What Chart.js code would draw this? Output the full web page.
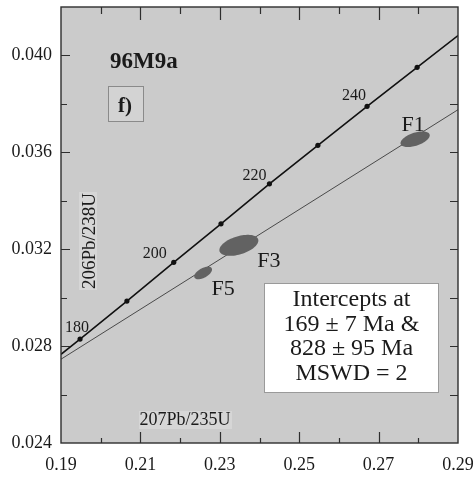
<!doctype html>
<html lang="en">
<head>
<meta charset="utf-8">
<title>96M9a concordia</title>
<style>
  * { margin: 0; padding: 0; }
  body { background: #fff; }
  canvas { display: block; }
</style>
</head>
<body>
<canvas id="myChart" width="474" height="480"></canvas>
<script src="https://cdn.jsdelivr.net/npm/chart.js"></script>
<script>
// concordia curve (ages in Ma; the null ends are where it leaves the frame)
const concordiaAges = [null, 180, 190, 200, 210, 220, 230, 240, 250, null];
const concordiaX = [0.19, 0.1948, 0.2066, 0.2184, 0.2303, 0.2425, 0.2547, 0.2671, 0.2797, 0.29];
const concordiaY = [0.02766, 0.02829, 0.02986, 0.03146, 0.03305, 0.03470, 0.03629, 0.03790, 0.03951, 0.04082];
const labelledAges = [180, 200, 220, 240];

// discordia chord
const discordiaX = [0.19, 0.29];
const discordiaY = [0.02746, 0.03776];

// zircon fractions: centre, half-extent in x and y, error correlation
const fractionNames = ['F1', 'F3', 'F5'];
const fractionX = [0.2792, 0.2348, 0.2258];
const fractionY = [0.03654, 0.03216, 0.03102];
const fractionErrX = [0.00368, 0.00491, 0.00224];
const fractionErrY = [0.000323, 0.000434, 0.00026];
const fractionRho = [0.5, 0.45, 0.55];

// axes
const xTicks = [0.19, 0.21, 0.23, 0.25, 0.27, 0.29];
const xTickLabels = ['0.19', '0.21', '0.23', '0.25', '0.27', '0.29'];
const xMinorTicks = [0.20, 0.22, 0.24, 0.26, 0.28];
const yTicks = [0.024, 0.028, 0.032, 0.036, 0.040];
const yTickLabels = ['0.024', '0.028', '0.032', '0.036', '0.040'];
const yMinorTicks = [0.026, 0.030, 0.034, 0.038];

const interceptText = ['Intercepts at', '169 \u00b1 7 Ma &', '828 \u00b1 95 Ma', 'MSWD = 2'];

const SERIF = '"Liberation Serif", "Times New Roman", serif';

// label offsets from the marks they name (pixels)
const ageLabelOffset = { 180: [-3, -7], 200: [-19, -4], 220: [-15, -4], 240: [-13, -6] };
const fractionLabelOffset = { F1: [-2, -8], F3: [30, 22], F5: [20, 22] };

const concordiaPlot = {
  id: 'concordiaPlot',
  beforeDraw(chart) {
    const { ctx, chartArea: { left, top, width, height } } = chart;
    ctx.save();
    ctx.fillStyle = '#cbcbcb';
    ctx.fillRect(left, top, width, height);
    ctx.restore();
  },
  afterDatasetsDraw(chart) {
    const { ctx, chartArea: { top, right, bottom, left }, scales: { x, y } } = chart;
    ctx.save();

    // error ellipses
    fractionNames.forEach((name, i) => {
      const cx = x.getPixelForValue(fractionX[i]);
      const cy = y.getPixelForValue(fractionY[i]);
      const sx = x.getPixelForValue(fractionX[i] + fractionErrX[i]) - cx;
      const sy = cy - y.getPixelForValue(fractionY[i] + fractionErrY[i]);
      const r = fractionRho[i];
      const q = Math.sqrt(1 - r * r);
      ctx.fillStyle = '#626262';
      ctx.beginPath();
      for (let k = 0; k <= 72; k++) {
        const t = k / 72 * Math.PI * 2;
        const px = cx + sx * Math.cos(t);
        const py = cy - sy * (r * Math.cos(t) + q * Math.sin(t));
        if (k === 0) ctx.moveTo(px, py); else ctx.lineTo(px, py);
      }
      ctx.closePath();
      ctx.fill();

      const off = fractionLabelOffset[name];
      ctx.fillStyle = '#1a1a1a';
      ctx.font = '22px ' + SERIF;
      ctx.textAlign = 'center';
      ctx.textBaseline = 'alphabetic';
      ctx.fillText(name, cx + off[0], cy + off[1]);
    });

    // age labels along the concordia
    ctx.fillStyle = '#1a1a1a';
    ctx.font = '16px ' + SERIF;
    ctx.textAlign = 'center';
    labelledAges.forEach(age => {
      const i = concordiaAges.indexOf(age);
      const px = x.getPixelForValue(concordiaX[i]);
      const py = y.getPixelForValue(concordiaY[i]);
      const off = ageLabelOffset[age];
      ctx.fillText(String(age), px + off[0], py + off[1]);
    });

    // sample name and panel tag
    ctx.textAlign = 'left';
    ctx.font = 'bold 23px ' + SERIF;
    ctx.fillText('96M9a', left + 49, top + 61);

    ctx.fillStyle = '#d3d3d3';
    ctx.fillRect(left + 47.5, top + 79.5, 35, 35);
    ctx.strokeStyle = '#8a8a8a';
    ctx.lineWidth = 1;
    ctx.strokeRect(left + 47.5, top + 79.5, 35, 35);
    ctx.fillStyle = '#1a1a1a';
    ctx.font = 'bold 21px ' + SERIF;
    ctx.textAlign = 'center';
    ctx.fillText('f)', left + 64, top + 105);

    // axis titles inside the frame
    ctx.font = '18px ' + SERIF;
    ctx.fillStyle = '#d6d6d6';
    ctx.fillRect(left + 78, bottom - 32, 93, 18);
    ctx.fillStyle = '#1a1a1a';
    ctx.fillText('207Pb/235U', left + 124, bottom - 18);

    ctx.save();
    ctx.translate(left + 28, top + 234);
    ctx.rotate(-Math.PI / 2);
    ctx.font = '19px ' + SERIF;
    ctx.fillStyle = '#d6d6d6';
    ctx.fillRect(-49, -10, 98, 18);
    ctx.fillStyle = '#1a1a1a';
    ctx.fillText('206Pb/238U', 0, 6);
    ctx.restore();

    // intercept summary box
    const bx = left + 203, by = top + 276, bw = 175, bh = 110;
    ctx.fillStyle = '#ffffff';
    ctx.fillRect(bx, by, bw, bh);
    ctx.strokeStyle = '#9a9a9a';
    ctx.lineWidth = 1;
    ctx.strokeRect(bx + 0.5, by + 0.5, bw - 1, bh - 1);
    ctx.fillStyle = '#1a1a1a';
    ctx.font = '24px ' + SERIF;
    ctx.textAlign = 'center';
    ctx.textBaseline = 'middle';
    interceptText.forEach((line, i) => {
      ctx.fillText(line, bx + bw / 2, by + 17 + i * 24.6);
    });

    // frame and inward ticks on all four sides
    ctx.strokeStyle = '#2e2e2e';
    ctx.lineWidth = 1.4;
    ctx.strokeRect(left, top, right - left, bottom - top);
    ctx.lineWidth = 1.2;
    ctx.beginPath();
    const tickX = (vals, lenTop, lenBottom) => vals.forEach(v => {
      const px = Math.round(x.getPixelForValue(v)) + 0.5;
      ctx.moveTo(px, top); ctx.lineTo(px, top + lenTop);
      ctx.moveTo(px, bottom); ctx.lineTo(px, bottom - lenBottom);
    });
    const tickY = (vals, lenLeft, lenRight) => vals.forEach(v => {
      const py = Math.round(y.getPixelForValue(v)) + 0.5;
      ctx.moveTo(left, py); ctx.lineTo(left + lenLeft, py);
      ctx.moveTo(right, py); ctx.lineTo(right - lenRight, py);
    });
    tickX(xTicks.slice(1, -1), 13, 11);
    tickX(xMinorTicks, 7, 5);
    tickY(yTicks.slice(1), 9, 8);
    tickY(yMinorTicks, 6, 8);
    ctx.stroke();

    ctx.restore();
  }
};

const data = {
  datasets: [{
    label: 'Concordia',
    data: concordiaX.map((v, i) => ({ x: v, y: concordiaY[i] })),
    showLine: true,
    borderColor: '#111',
    borderWidth: 1.6,
    backgroundColor: '#111',
    pointRadius: concordiaAges.map(a => a === null ? 0 : 2.6),
    pointBorderWidth: 0,
    tension: 0
  }, {
    label: 'Discordia',
    data: discordiaX.map((v, i) => ({ x: v, y: discordiaY[i] })),
    showLine: true,
    borderColor: '#4a4a4a',
    borderWidth: 1,
    pointRadius: 0
  }]
};

const config = {
  type: 'scatter',
  data,
  options: {
    responsive: false,
    animation: false,
    layout: { padding: { top: 7, right: 16, left: 0, bottom: 0 } },
    plugins: {
      legend: { display: false },
      tooltip: { enabled: false }
    },
    scales: {
      x: {
        type: 'linear',
        min: 0.19,
        max: 0.29,
        afterBuildTicks: s => { s.ticks = xTicks.map(v => ({ value: v })); },
        afterFit: s => { s.height = 37; s.paddingLeft = 0; s.paddingRight = 16; },
        grid: { display: false, drawTicks: false },
        border: { display: false },
        ticks: {
          padding: 11,
          color: '#1a1a1a',
          font: { family: SERIF, size: 18 },
          maxRotation: 0,
          callback: (v, i) => xTickLabels[i]
        }
      },
      y: {
        type: 'linear',
        min: 0.024,
        max: 0.042,
        afterBuildTicks: s => { s.ticks = yTicks.map(v => ({ value: v })); },
        afterFit: s => { s.width = 61; s.paddingTop = 0; s.paddingBottom = 0; },
        grid: { display: false, drawTicks: false },
        border: { display: false },
        ticks: {
          padding: 9,
          color: '#1a1a1a',
          font: { family: SERIF, size: 18 },
          callback: (v, i) => yTickLabels[i]
        }
      }
    }
  },
  plugins: [concordiaPlot]
};

const myChart = new Chart(document.getElementById('myChart'), config);
</script>
</body>
</html>
